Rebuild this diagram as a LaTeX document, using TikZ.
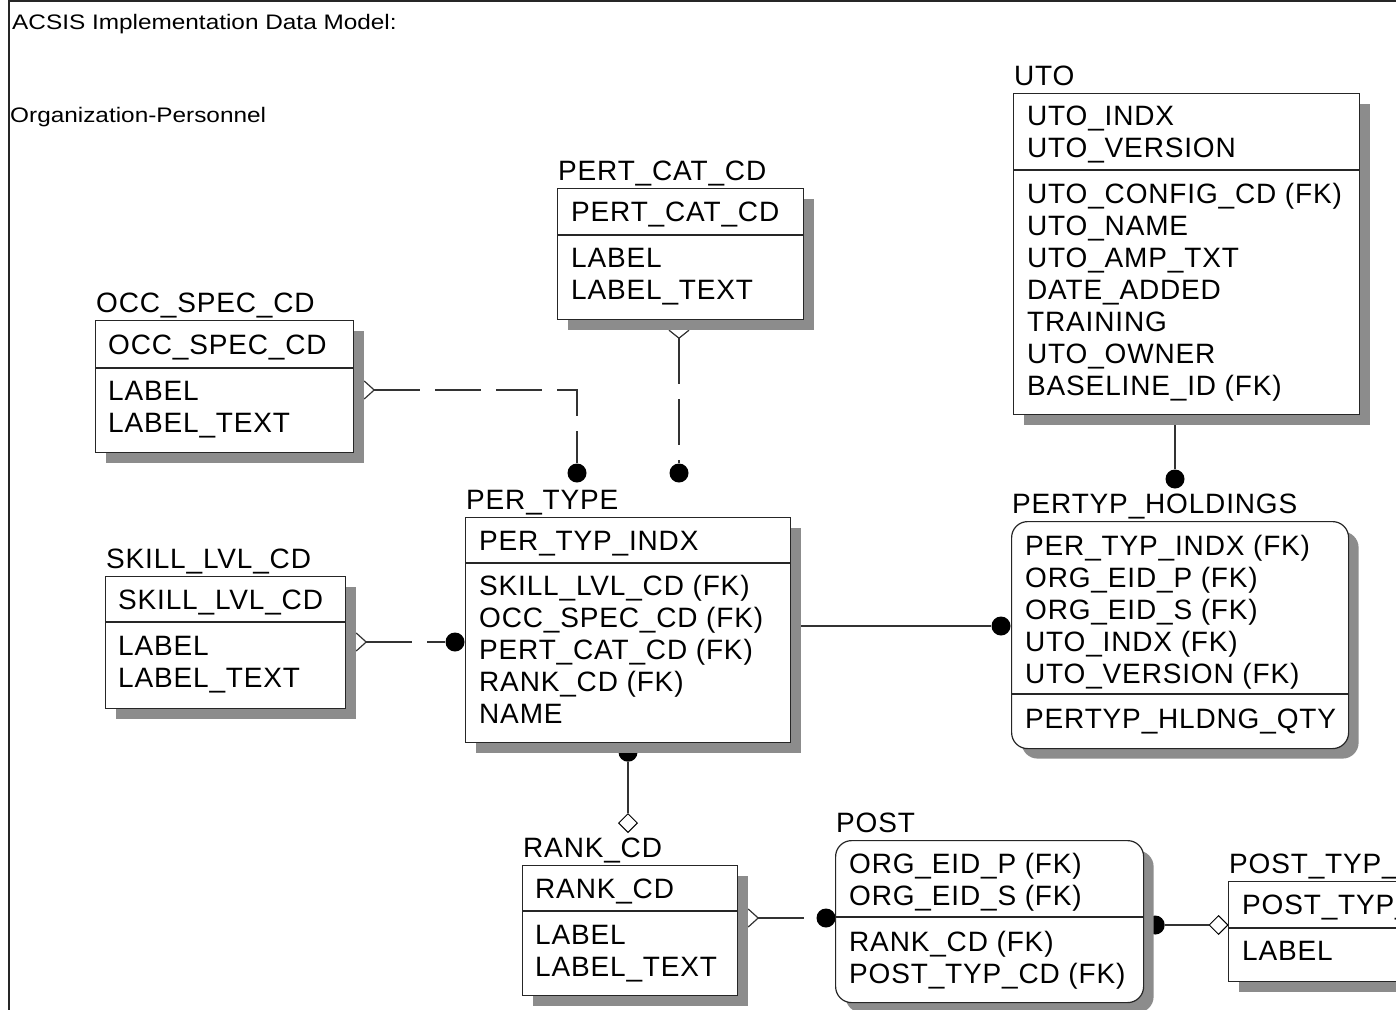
\documentclass[tikz,border=0pt]{standalone}
\usepackage{fontspec}
\setmainfont{Liberation Sans}
\newfontfamily\erfont[LetterSpace=3]{Liberation Sans}
\newfontfamily\capfont[FakeStretch=1.16]{Liberation Sans}
\usetikzlibrary{shadows,calc,shapes.geometric}
\pgfdeclarelayer{bg}
\pgfsetlayers{bg,main}

% entity box: name, style, x, y (top left), width, height, divider offset, title
\newcommand\erent[8]{%
  \node[#2, minimum width=#5pt, minimum height=#6pt] (#1) at (#3,#4) {};
  \draw[divider] ($(#1.north west)+(0,#7)$) -- ($(#1.north east)+(0,#7)$);
  \node[etext] (#1-title) at (#3+1,#4-8) {#8};
}
% attribute rows: name prefix, x, centre y of first row, list of rows
\newcommand\erows[4]{%
  \foreach \t [count=\i] in {#4} {\node[etext] (#1-\i) at (#2,#3+10+32*\i-32) {\t};}
}

\begin{document}
\begin{tikzpicture}[x=1pt,y=-1pt,
  entity/.style={draw=black!85, line width=1.2pt, fill=white, anchor=north west,
    inner sep=0pt, drop shadow={shadow xshift=10pt, shadow yshift=-10pt,
    fill=black!45, opacity=1}},
  roundentity/.style={entity, rounded corners=16pt},
  divider/.style={draw=black!85, line width=1.2pt},
  etext/.style={anchor=base west, inner sep=0pt, font=\erfont\fontsize{28pt}{32pt}\selectfont},
  captext/.style={anchor=base west, inner sep=0pt, font=\capfont\fontsize{21pt}{24pt}\selectfont},
  rel/.style={draw=black!80, line width=1.2pt},
  nonident/.style={rel, dash pattern=on 46pt off 15pt},
  dot/.style={circle, fill=black, inner sep=0pt, minimum size=19pt},
  opendia/.style={diamond, draw=black, fill=white, line width=1pt, inner sep=0pt,
    minimum width=19pt, minimum height=19pt},
]
\useasboundingbox (0,0) rectangle (1396,1009);
\clip (0,0) rectangle (1396,1009);

% sheet frame and captions
\coordinate (frame-bl) at (9,1012);
\coordinate (frame-tl) at (9,1);
\coordinate (frame-tr) at (1400,1);
\draw[line width=1.6pt, draw=black!85] (frame-bl) -- (frame-tl) -- (frame-tr);
\node[captext] (cap1) at (12,29) {ACSIS Implementation Data Model:};
\node[captext] (cap2) at (10,122) {Organization-Personnel};

% entities
\erent{occ}{entity}{95}{320}{258}{132}{48}{OCC\_SPEC\_CD}
\erows{occ-k}{108}{344}{OCC\_SPEC\_CD}
\erows{occ-a}{108}{390}{LABEL,LABEL\_TEXT}

\erent{pcc}{entity}{557}{188}{246}{131}{47}{PERT\_CAT\_CD}
\erows{pcc-k}{571}{211}{PERT\_CAT\_CD}
\erows{pcc-a}{571}{257}{LABEL,LABEL\_TEXT}

\erent{uto}{entity}{1013}{93}{346}{321}{77}{UTO}
\erows{uto-k}{1027}{115}{UTO\_INDX,UTO\_VERSION}
\erows{uto-a}{1027}{193}{{UTO\_CONFIG\_CD (FK)},UTO\_NAME,UTO\_AMP\_TXT,DATE\_ADDED,TRAINING,UTO\_OWNER,{BASELINE\_ID (FK)}}

\erent{pt}{entity}{465}{517}{325}{225}{46}{PER\_TYPE}
\erows{pt-k}{479}{540}{PER\_TYP\_INDX}
\erows{pt-a}{479}{585}{{SKILL\_LVL\_CD (FK)},{OCC\_SPEC\_CD (FK)},{PERT\_CAT\_CD (FK)},{RANK\_CD (FK)},NAME}

\erent{skl}{entity}{105}{576}{240}{132}{46}{SKILL\_LVL\_CD}
\erows{skl-k}{118}{599}{SKILL\_LVL\_CD}
\erows{skl-a}{118}{645}{LABEL,LABEL\_TEXT}

\erent{hold}{roundentity}{1011}{521}{337}{227}{173}{PERTYP\_HOLDINGS}
\erows{hold-k}{1025}{545}{{PER\_TYP\_INDX (FK)},{ORG\_EID\_P (FK)},{ORG\_EID\_S (FK)},{UTO\_INDX (FK)},{UTO\_VERSION (FK)}}
\erows{hold-a}{1025}{718}{PERTYP\_HLDNG\_QTY}

\erent{rank}{entity}{522}{865}{215}{130}{46}{RANK\_CD}
\erows{rank-k}{535}{888}{RANK\_CD}
\erows{rank-a}{535}{934}{LABEL,LABEL\_TEXT}

\erent{post}{roundentity}{835}{840}{308}{162}{77}{POST}
\erows{post-k}{849}{863}{{ORG\_EID\_P (FK)},{ORG\_EID\_S (FK)}}
\erows{post-a}{849}{941}{{RANK\_CD (FK)},{POST\_TYP\_CD (FK)}}

\erent{ptyp}{entity}{1228}{881}{200}{100}{47}{POST\_TYP\_CD}
\erows{ptyp-k}{1242}{904}{POST\_TYP\_CD}
\erows{ptyp-a}{1242}{950}{LABEL}

% relationships, kept behind the entity boxes and their shadows
\begin{pgfonlayer}{bg}
  % OCC_SPEC_CD -> PER_TYPE
  \coordinate (occ-m) at ($(occ.north east)+(20,70)$);
  \node[dot] (pt-d1) at ($(pt.north west)+(112,-44)$) {};
  \draw[rel] ($(occ-m)+(-10,-9)$) -- (occ-m) -- ($(occ-m)+(-10,9)$);
  \draw[nonident] (occ-m) -| (pt-d1);
  % PERT_CAT_CD -> PER_TYPE
  \coordinate (pcc-m) at ($(pcc.south west)+(122,18)$);
  \node[dot] (pt-d2) at ($(pt.north west)+(214,-44)$) {};
  \draw[rel] ($(pcc-m)+(-10,-8)$) -- (pcc-m) -- ($(pcc-m)+(10,-8)$);
  \draw[nonident] (pcc-m) -- (pt-d2);
  % SKILL_LVL_CD -> PER_TYPE
  \coordinate (skl-m) at ($(skl.north east)+(20,66)$);
  \node[dot] (pt-d3) at ($(pt.north west)+(-10,125)$) {};
  \draw[rel] ($(skl-m)+(-10,-9)$) -- (skl-m) -- ($(skl-m)+(-10,9)$);
  \draw[nonident] (skl-m) -- (pt-d3);
  % PER_TYPE -> PERTYP_HOLDINGS
  \node[dot] (hold-d1) at ($(hold.north west)+(-10,105)$) {};
  \draw[rel] (pt.east |- hold-d1) -- (hold-d1);
  % UTO -> PERTYP_HOLDINGS
  \node[dot] (hold-d2) at ($(hold.north west)+(164,-42)$) {};
  \draw[rel] (uto.south -| hold-d2) -- (hold-d2);
  % PER_TYPE -> RANK_CD
  \node[dot] (pt-d4) at ($(pt.south west)+(163,9)$) {};
  \node[opendia] (rank-dia) at ($(rank.north west)+(106,-42)$) {};
  \draw[rel] (pt-d4) -- (rank-dia);
  % RANK_CD -> POST
  \coordinate (rank-m) at ($(rank.north east)+(20,53)$);
  \node[dot] (post-d1) at ($(post.north west)+(-9,78)$) {};
  \draw[rel] ($(rank-m)+(-10,-9)$) -- (rank-m) -- ($(rank-m)+(-10,9)$);
  \draw[nonident] (rank-m) -- (post-d1);
  % POST -> POST_TYP_CD
  \node[dot] (post-d2) at ($(post.north east)+(11,85)$) {};
  \node[opendia] (ptyp-dia) at ($(ptyp.north west)+(-9.5,44)$) {};
  \draw[rel] (post-d2) -- (ptyp-dia);
\end{pgfonlayer}
\end{tikzpicture}
\end{document}
